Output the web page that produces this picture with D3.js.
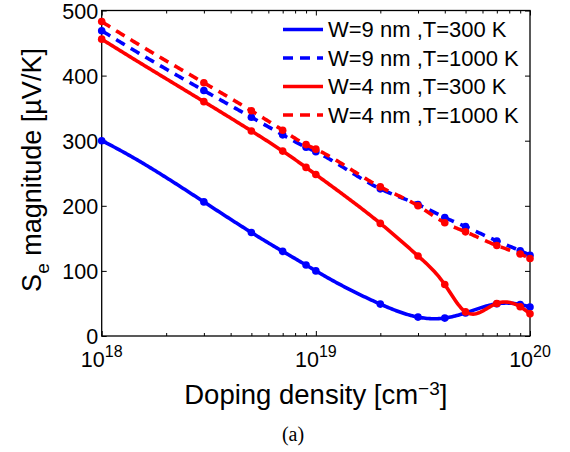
<!DOCTYPE html>
<html>
<head>
<meta charset="utf-8">
<script src="https://cdn.jsdelivr.net/npm/d3@7"></script>
<style>
  html, body { margin: 0; padding: 0; background: #fff; }
  svg { display: block; }
  text { font-family: "Liberation Sans", Arial, Helvetica, sans-serif; fill: #000; }
</style>
</head>
<body>
<svg id="chart" width="570" height="452"></svg>
<script>
// ---- data ----
const dopingDensity = [1e18, 3e18, 5e18, 7e18, 9e18, 1e19, 2e19, 3e19, 4e19, 5e19, 7e19, 9e19, 1e20];
const w9T300  = [300, 206, 159, 130, 109, 100, 49, 29, 27.5, 35.5, 49.5, 48.5, 44.5];
const w9T1000 = [469, 377, 336, 309, 290, 283, 226, 202, 182, 168, 146, 131, 124];
const w4T300  = [456, 360, 315, 284, 259, 248, 173, 123, 79, 37, 50, 45, 34];
const w4T1000 = [483, 389, 346, 316, 294, 287, 229, 200, 174, 160, 139, 126, 119];
const seriesNames = ["W=9 nm ,T=300 K", "W=9 nm ,T=1000 K", "W=4 nm ,T=300 K", "W=4 nm ,T=1000 K"];
const seriesColors = ["#0000ff", "#0000ff", "#ff0000", "#ff0000"];
const seriesDashed = [false, true, false, true];
const xMajorTicks = [1e18, 1e19, 1e20];
const xTickExponents = ["18", "19", "20"];
const yTicks = [0, 100, 200, 300, 400, 500];

const seriesValues = [w9T300, w9T1000, w4T300, w4T1000];

// ---- not-a-knot cubic spline as a d3 curve (like MATLAB's spline) ----
function solveDense(A, b) {
  const n = b.length;
  for (let c = 0; c < n; c++) {
    let p = c;
    for (let r = c + 1; r < n; r++) if (Math.abs(A[r][c]) > Math.abs(A[p][c])) p = r;
    [A[c], A[p]] = [A[p], A[c]]; [b[c], b[p]] = [b[p], b[c]];
    for (let r = c + 1; r < n; r++) {
      const f = A[r][c] / A[c][c];
      for (let k = c; k < n; k++) A[r][k] -= f * A[c][k];
      b[r] -= f * b[c];
    }
  }
  const xs = new Array(n).fill(0);
  for (let r = n - 1; r >= 0; r--) {
    let s = b[r];
    for (let k = r + 1; k < n; k++) s -= A[r][k] * xs[k];
    xs[r] = s / A[r][r];
  }
  return xs;
}
function curveNotAKnot(context) {
  let px, py;
  return {
    areaStart() {}, areaEnd() {},
    lineStart() { px = []; py = []; },
    point(x, y) { px.push(+x); py.push(+y); },
    lineEnd() {
      const n = px.length;
      const h = [];
      for (let i = 0; i < n - 1; i++) h.push(px[i + 1] - px[i]);
      const A = Array.from({ length: n }, () => new Array(n).fill(0));
      const b = new Array(n).fill(0);
      A[0][0] = h[1]; A[0][1] = -(h[0] + h[1]); A[0][2] = h[0];
      A[n - 1][n - 3] = h[n - 2]; A[n - 1][n - 2] = -(h[n - 3] + h[n - 2]); A[n - 1][n - 1] = h[n - 3];
      for (let i = 1; i < n - 1; i++) {
        A[i][i - 1] = h[i - 1]; A[i][i] = 2 * (h[i - 1] + h[i]); A[i][i + 1] = h[i];
        b[i] = 6 * ((py[i + 1] - py[i]) / h[i] - (py[i] - py[i - 1]) / h[i - 1]);
      }
      const M = solveDense(A, b);
      context.moveTo(px[0], py[0]);
      for (let i = 0; i < n - 1; i++) {
        const steps = Math.max(4, Math.ceil(h[i] / 1.5));
        for (let s = 1; s <= steps; s++) {
          const xx = px[i] + h[i] * s / steps;
          const a = px[i + 1] - xx, c = xx - px[i];
          const yy = M[i] * a * a * a / (6 * h[i]) + M[i + 1] * c * c * c / (6 * h[i])
            + (py[i] / h[i] - M[i] * h[i] / 6) * a + (py[i + 1] / h[i] - M[i + 1] * h[i] / 6) * c;
          context.lineTo(xx, yy);
        }
      }
    }
  };
}

const svg = d3.select("#chart");
const padL = 101.7, padR = 530, padT = 10.5, padB = 336;

const x = d3.scaleLog().domain([1e18, 1e20]).range([padL, padR]);
const y = d3.scaleLinear().domain([0, 500]).range([padB, padT]);

const xMinorTicks = [];
[1e18, 1e19].forEach(d => { for (let k = 2; k <= 9; k++) xMinorTicks.push(d * k); });

// ---- axes (ticks inward on all four sides) ----
function styleAxis(g) {
  g.select(".domain").remove();
  g.selectAll(".tick line").attr("stroke", "#000").attr("stroke-width", 1);
}
svg.append("g").attr("transform", `translate(0,${padB})`)
  .call(d3.axisBottom(x).tickValues(xMajorTicks).tickSize(-5).tickFormat(() => "")).call(styleAxis);
svg.append("g").attr("transform", `translate(0,${padB})`)
  .call(d3.axisBottom(x).tickValues(xMinorTicks).tickSize(-3).tickFormat(() => "")).call(styleAxis);
svg.append("g").attr("transform", `translate(0,${padT})`)
  .call(d3.axisTop(x).tickValues(xMajorTicks).tickSize(-5).tickFormat(() => "")).call(styleAxis);
svg.append("g").attr("transform", `translate(0,${padT})`)
  .call(d3.axisTop(x).tickValues(xMinorTicks).tickSize(-3).tickFormat(() => "")).call(styleAxis);
svg.append("g").attr("transform", `translate(${padL},0)`)
  .call(d3.axisLeft(y).tickValues(yTicks).tickSize(-5).tickFormat(() => "")).call(styleAxis);
svg.append("g").attr("transform", `translate(${padR},0)`)
  .call(d3.axisRight(y).tickValues(yTicks).tickSize(-5).tickFormat(() => "")).call(styleAxis);

svg.append("rect")
  .attr("x", padL).attr("y", padT)
  .attr("width", padR - padL).attr("height", padB - padT)
  .attr("fill", "none").attr("stroke", "#000").attr("stroke-width", 1.3);

// tick labels
svg.append("g").selectAll("text").data(yTicks).join("text")
  .attr("x", padL - 3.5).attr("y", d => y(d) + 8)
  .attr("text-anchor", "end").attr("font-size", 21.5)
  .text(d => d);

const xt = svg.append("g").selectAll("text").data(xMajorTicks).join("text")
  .attr("x", d => x(d)).attr("y", 367)
  .attr("text-anchor", "middle").attr("font-size", 21.5);
xt.append("tspan").text("10");
xt.append("tspan").attr("dy", -10.5).attr("font-size", 16).text((d, i) => xTickExponents[i]);

// axis labels
const xl = svg.append("text")
  .attr("x", (padL + padR) / 2).attr("y", 404)
  .attr("text-anchor", "middle").attr("font-size", 27.5);
xl.append("tspan").text("Doping density [cm");
xl.append("tspan").attr("dy", -9).attr("font-size", 19).text("\u22123");
xl.append("tspan").attr("dy", 9).text("]");

const yl = svg.append("text")
  .attr("transform", "translate(41,170) rotate(-90)")
  .attr("text-anchor", "middle").attr("font-size", 27);
yl.append("tspan").text("S");
yl.append("tspan").attr("dy", 8).attr("font-size", 19).text("e");
yl.append("tspan").attr("dy", -8).text(" magnitude [\u00b5V/K]");

svg.append("text")
  .attr("x", 293).attr("y", 441)
  .attr("text-anchor", "middle").attr("font-size", 20)
  .style("font-family", "'Liberation Serif', 'Times New Roman', serif")
  .text("(a)");

// ---- series ----
const line = d3.line()
  .x(d => x(d.x)).y(d => y(d.y))
  .curve(curveNotAKnot);

seriesValues.forEach((vals, i) => {
  const pts = dopingDensity.map((d, j) => ({ x: d, y: vals[j] }));
  const g = svg.append("g");
  g.append("path")
    .datum(pts)
    .attr("d", line)
    .attr("fill", "none")
    .attr("stroke", seriesColors[i])
    .attr("stroke-width", 3.6)
    .attr("stroke-dasharray", seriesDashed[i] ? "10,7" : null);
  g.selectAll("circle").data(pts).join("circle")
    .attr("cx", d => x(d.x)).attr("cy", d => y(d.y))
    .attr("r", 3.8)
    .attr("fill", seriesColors[i]);
});

// ---- legend ----
const legendRowY = [29.5, 58, 86.5, 115];
const lg = svg.append("g");
seriesNames.forEach((name, i) => {
  lg.append("line")
    .attr("x1", 283).attr("x2", 323)
    .attr("y1", legendRowY[i]).attr("y2", legendRowY[i])
    .attr("stroke", seriesColors[i]).attr("stroke-width", 3.6)
    .attr("stroke-dasharray", seriesDashed[i] ? "10,7" : null);
  lg.append("text")
    .attr("x", 328).attr("y", legendRowY[i] + 7.5)
    .attr("font-size", 22)
    .text(name);
});
</script>
</body>
</html>
